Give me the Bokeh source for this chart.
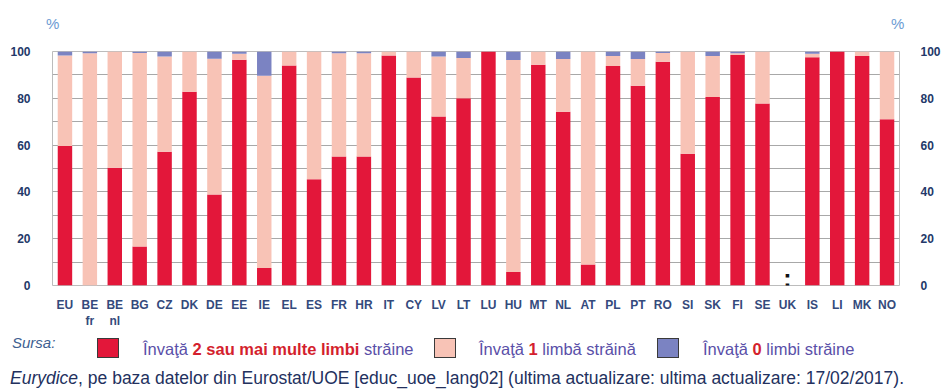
from bokeh.plotting import figure
from bokeh.models import Range1d, FactorRange, FixedTicker, LinearAxis, ColumnDataSource, Div
from bokeh.layouts import column
from bokeh.embed import file_html
from bokeh.resources import INLINE
from bokeh.core.properties import value

# ---------------- data ----------------
countries = ["EU", "BE\nfr", "BE\nnl", "BG", "CZ", "DK", "DE", "EE", "IE", "EL", "ES", "FR",
             "HR", "IT", "CY", "LV", "LT", "LU", "HU", "MT", "NL", "AT", "PL", "PT", "RO",
             "SI", "SK", "FI", "SE", "UK", "IS", "LI", "MK", "NO"]
two_plus = [59.6, 0.0, 50.3, 16.7, 57.2, 82.8, 38.9, 96.5, 7.5, 94.0, 45.4, 55.1,
            55.1, 98.3, 88.9, 72.2, 80.0, 100.0, 5.8, 94.3, 74.2, 9.0, 93.8, 85.4, 95.6,
            56.3, 80.6, 98.5, 77.8, 0.0, 97.5, 100.0, 98.1, 71.1]
one_lang = [38.7, 99.2, 49.7, 82.7, 40.7, 17.2, 58.0, 2.5, 82.1, 6.0, 54.6, 44.2,
            44.2, 1.7, 11.1, 25.7, 17.2, 0.0, 90.6, 5.7, 22.6, 91.0, 4.3, 11.4, 3.8,
            43.7, 17.5, 0.8, 22.2, 0.0, 1.5, 0.0, 1.9, 28.9]
zero_lang = [1.7, 0.8, 0.0, 0.6, 2.1, 0.0, 3.1, 1.0, 10.4, 0.0, 0.0, 0.7,
             0.7, 0.0, 0.0, 2.1, 2.8, 0.0, 3.6, 0.0, 3.2, 0.0, 1.9, 3.2, 0.6,
             0.0, 1.9, 0.7, 0.0, 0.0, 1.0, 0.0, 0.0, 0.0]
no_data = ["UK"]
y_ticks = [0, 20, 40, 60, 80, 100]
grid_ticks = [0, 10, 20, 30, 40, 50, 60, 70, 80, 90, 100]

series_colors = ["#e3173a", "#f8c3b6", "#7b83c2"]
legend_pre = ["Învaţă", "Învaţă", "Învaţă"]
legend_key = ["2 sau mai multe limbi", "1", "0"]
legend_post = ["străine", "limbă străină", "limbi străine"]
source_label = "Sursa:"
footer_italic = "Eurydice"
footer_rest = ", pe baza datelor din Eurostat/UOE [educ_uoe_lang02] (ultima actualizare: ultima actualizare: 17/02/2017)."
unit_label = "%"

FONT = "Liberation Sans"
TICK_COLOR = "#233869"
TEXT_PURPLE = "#5a4fa8"
KEY_RED = "#d41f2e"
W = 943
BL, BR = 52, 41          # left / right borders around the plot frame
TOP_H, LG_H = 45, 59


def span(left, top, inner, extra=""):
    return (f'<div style="position:absolute;left:{left}px;top:{top}px;white-space:nowrap;'
            f'line-height:20px;{extra}">{inner}</div>')


# ---------------- top strip ("%" units) ----------------
top_html = "".join(
    span(cx - 6, 14, unit_label, "font-size:15px;color:#6b9bd3;width:12px;text-align:center;")
    for cx in [52, 897])
top = Div(text=f'<div style="position:relative;width:{W}px;height:{TOP_H}px;font-family:\'{FONT}\';">'
               f'{top_html}</div>', width=W, height=TOP_H, margin=(0, 0, 0, 0))

# ---------------- main chart ----------------
src = ColumnDataSource(dict(cat=countries, two=two_plus, one=one_lang, zero=zero_lang))

p = figure(x_range=FactorRange(factors=countries, range_padding=0),
           y_range=Range1d(0, 100),
           width=W, height=286, output_backend="svg", toolbar_location=None,
           min_border_left=BL, min_border_right=BR, min_border_top=6, min_border_bottom=40)

p.vbar_stack(["two", "one", "zero"], x="cat", width=0.58, source=src,
             fill_color=series_colors, line_color=None)

p.text(x=no_data, y=[3.0] * len(no_data), text=[":"] * len(no_data),
       text_align="center", text_baseline="middle", text_font=value(FONT),
       text_font_size="25px", text_font_style="bold", text_color="#111111")

p.outline_line_color = "#bcbcbc"
p.outline_line_width = 1
p.xgrid.grid_line_color = None
p.ygrid.ticker = FixedTicker(ticks=grid_ticks)
p.ygrid.grid_line_color = "#a8a8a8"
p.ygrid.grid_line_width = 1

p.yaxis.ticker = FixedTicker(ticks=y_ticks)
right = LinearAxis(ticker=FixedTicker(ticks=y_ticks))
p.add_layout(right, "right")

for ax in [p.yaxis[0], right]:
    ax.axis_line_color = None
    ax.major_tick_line_color = None
    ax.minor_tick_line_color = None
    ax.major_label_text_font = FONT
    ax.major_label_text_font_size = "12px"
    ax.major_label_text_font_style = "bold"
    ax.major_label_text_color = TICK_COLOR
p.yaxis[0].major_label_standoff = 16
right.major_label_standoff = 15

p.xaxis.axis_line_color = None
p.xaxis.major_tick_line_color = None
p.xaxis.major_label_text_font = FONT
p.xaxis.major_label_text_font_size = "12px"
p.xaxis.major_label_text_font_style = "bold"
p.xaxis.major_label_text_color = "#344a7c"
p.xaxis.major_label_standoff = 6

# ---------------- legend / source (HTML) ----------------
sq_left = [97, 434, 657]
txt_left = [143, 479, 703]
parts = [span(12, 2, source_label, "font-size:15px;font-style:italic;color:#3e5f91;")]
for i in range(3):
    parts.append(f'<div style="position:absolute;left:{sq_left[i]}px;top:7px;width:22px;height:20px;'
                 f'background:{series_colors[i]};border:1px solid #3a3a3a;"></div>')
    inner = (f'{legend_pre[i]} <b style="color:{KEY_RED};">{legend_key[i]}</b> {legend_post[i]}')
    parts.append(span(txt_left[i], 8, inner, f"font-size:16.5px;color:{TEXT_PURPLE};"))
parts.append(span(10, 37, f"<i>{footer_italic}</i>{footer_rest}", "font-size:17.5px;color:#23315e;"))

lg = Div(text=f'<div style="position:relative;width:{W}px;height:{LG_H}px;font-family:\'{FONT}\';">'
              f'{"".join(parts)}</div>', width=W, height=LG_H, margin=(0, 0, 0, 0))

layout = column(top, p, lg, spacing=0)
open("out.html", "w").write(file_html(layout, INLINE))
